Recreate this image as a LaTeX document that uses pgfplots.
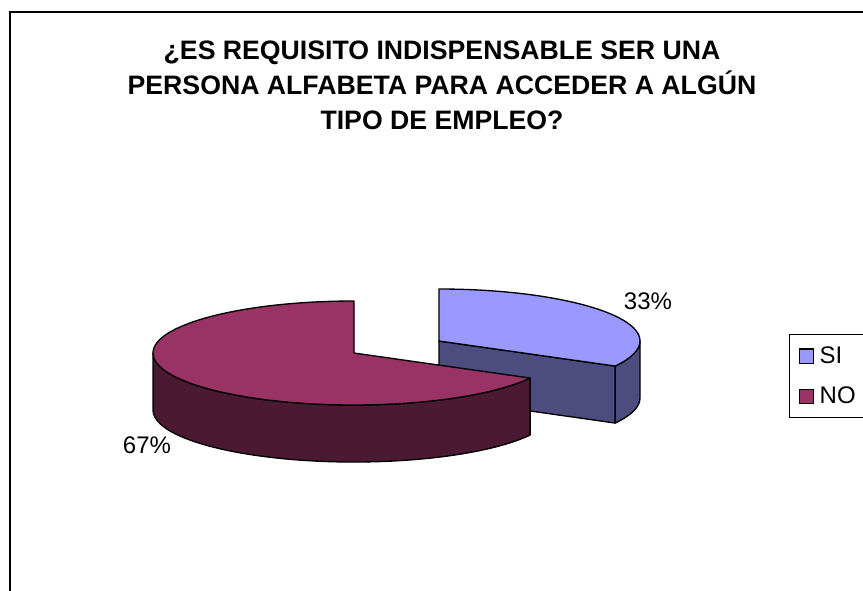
\documentclass[border=0pt]{standalone}
\usepackage{pgfplots}
\usepackage{pgfplotstable}
\pgfplotsset{compat=1.18}
\usepackage{fontspec}
\setmainfont{Liberation Sans}
\definecolor{siTop}{HTML}{9999FF}
\definecolor{siSide}{HTML}{4C4C7F}
\definecolor{noTop}{HTML}{993366}
\definecolor{noSide}{HTML}{4C1933}
\pgfplotstableread{
label value
SI 33
NO 67
}\piedata
\pgfplotstablegetelem{0}{value}\of\piedata \let\vSI\pgfplotsretval
\pgfplotstablegetelem{1}{value}\of\piedata \let\vNO\pgfplotsretval
\pgfmathsetmacro\aSI{360*\vSI/(\vSI+\vNO)}
\pgfmathsetmacro\aEnd{90-\aSI}
\pgfmathsetmacro\aOpp{\aEnd+180}
\pgfmathsetmacro\aNOend{\aEnd+360}
\def\RX{150.75pt}
\def\RY{39pt}
\def\DEP{42.75pt}
\begin{document}
\begin{tikzpicture}
\useasboundingbox (0,0) rectangle (647.25pt,442.5pt);
\begin{axis}[
  at={(0,0)}, anchor=south west,
  width=647.25pt, height=442.5pt, scale only axis,
  xmin=0, xmax=863, ymin=0, ymax=590, y dir=reverse,
  hide axis, clip=false,
  legend style={at={(0.9143,0.4339)}, anchor=north west, draw=none, fill=none,
    font=\fontsize{18pt}{21pt}\selectfont, inner xsep=7pt, inner ysep=7.5pt,
    row sep=12pt, cells={anchor=west},
    /tikz/every odd column/.append style={column sep=2pt}},
  legend image code/.code={\draw[#1, line width=0.8pt] (0pt,-5.5pt) rectangle (11pt,5.5pt);},
]
% chart frame
\draw[line width=1.5pt] (axis cs:10,700) -- (axis cs:10,12) -- (axis cs:950,12);
% legend frame
\draw[line width=0.6pt] (axis cs:950,334) -- (axis cs:789,334) -- (axis cs:789,417) -- (axis cs:950,417);
% SI slice (exploded, behind)
\addplot[forget plot, fill=siSide, draw=black, line width=1pt, line join=round] coordinates {(439,341)}
  ++(\aEnd:\RX\space and \RY) arc[start angle=\aEnd, end angle=0, x radius=\RX, y radius=\RY]
  -- ++(0pt,-\DEP) arc[start angle=0, end angle=\aEnd, x radius=\RX, y radius=\RY] -- cycle;
\addplot[forget plot, fill=siSide, draw=black, line width=1pt, line join=round] coordinates {(439,341)}
  -- ++(\aEnd:\RX\space and \RY) -- ++(0pt,-\DEP) -- ++(\aOpp:\RX\space and \RY) -- cycle;
\addplot[forget plot, fill=siTop, draw=black, line width=1pt, line join=round] coordinates {(439,341)}
  -- ++(90:\RX\space and \RY) arc[start angle=90, end angle=\aEnd, x radius=\RX, y radius=\RY] -- cycle;
% NO slice
\addplot[forget plot, fill=noSide, draw=black, line width=1pt, line join=round] coordinates {(354,353)}
  ++(180:\RX\space and \RY) arc[start angle=180, end angle=\aNOend, x radius=\RX, y radius=\RY]
  -- ++(0pt,-\DEP) arc[start angle=\aNOend, end angle=180, x radius=\RX, y radius=\RY] -- cycle;
\addplot[forget plot, fill=noTop, draw=black, line width=1pt, line join=round] coordinates {(354,353)}
  -- ++(90:\RX\space and \RY) arc[start angle=90, end angle=\aNOend, x radius=\RX, y radius=\RY] -- cycle;
% labels
\node[anchor=base, font=\fontsize{18pt}{21pt}\selectfont, inner sep=0pt] at (axis cs:648,309) {33\%};
\node[anchor=base, font=\fontsize{18pt}{21pt}\selectfont, inner sep=0pt] at (axis cs:147,453) {67\%};
% title
\node[anchor=base, font=\fontsize{20pt}{24pt}\selectfont\bfseries, inner sep=0pt] at (axis cs:442,59) {¿ES REQUISITO INDISPENSABLE SER UNA};
\node[anchor=base, font=\fontsize{20pt}{24pt}\selectfont\bfseries, inner sep=0pt] at (axis cs:442,94) {PERSONA ALFABETA PARA ACCEDER A ALGÚN};
\node[anchor=base, font=\fontsize{20pt}{24pt}\selectfont\bfseries, inner sep=0pt] at (axis cs:442,129) {TIPO DE EMPLEO?};
% legend
\addlegendimage{fill=siTop, draw=black}
\addlegendentry{SI}
\addlegendimage{fill=noTop, draw=black}
\addlegendentry{NO}
\end{axis}
\end{tikzpicture}
\end{document}
